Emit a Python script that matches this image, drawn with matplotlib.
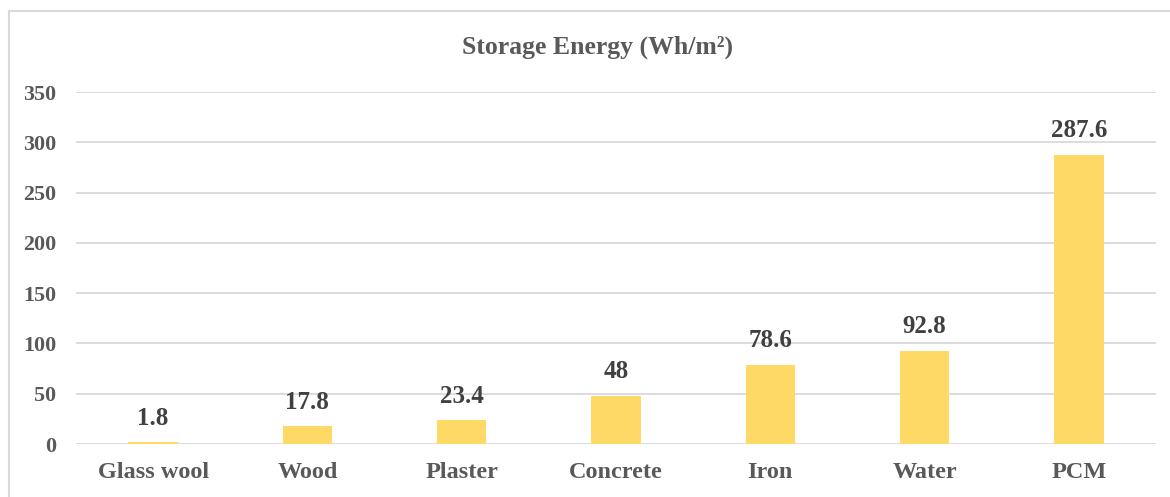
import matplotlib.pyplot as plt
from matplotlib.lines import Line2D

# storage energy per material (Wh/m2)
materials = ['Glass wool', 'Wood', 'Plaster', 'Concrete', 'Iron', 'Water', 'PCM']
energy = [1.8, 17.8, 23.4, 48, 78.6, 92.8, 287.6]
value_labels = ['1.8', '17.8', '23.4', '48', '78.6', '92.8', '287.6']
y_ticks = [0, 50, 100, 150, 200, 250, 300, 350]

plt.rcParams['font.family'] = ['Liberation Serif', 'DejaVu Serif']
plt.rcParams['font.weight'] = 'bold'

W, H = 1170, 497
fig = plt.figure(figsize=(W / 100, H / 100), dpi=100)
ax = fig.add_axes([76 / W, 1 - 444 / H, (1156 - 76) / W, (444 - 92) / H])

bars = ax.bar(range(len(materials)), energy, width=0.32, color='#FFD966', zorder=3)
ax.set_xlim(-0.5, len(materials) - 0.5)
ax.set_ylim(0, 350)
ax.set_yticks(y_ticks)
ax.set_xticks(range(len(materials)))
ax.set_xticklabels(materials)

ax.grid(axis='y', color='#D9D9D9', linewidth=1.3, zorder=0)
for s in ax.spines.values():
    s.set_visible(False)
ax.tick_params(axis='both', length=0, colors='#595959')
ax.tick_params(axis='y', pad=14, labelsize=15.8)
ax.tick_params(axis='x', pad=13, labelsize=17.5)
for lbl in ax.get_xticklabels() + ax.get_yticklabels():
    lbl.set_fontweight('bold')

for b, txt in zip(bars, value_labels):
    ax.annotate(txt, (b.get_x() + b.get_width() / 2, b.get_height()),
                xytext=(0, 9), textcoords='offset points',
                ha='center', va='bottom', fontsize=18, fontweight='bold',
                color='#404040')

fig.text(597 / W, 1 - 47 / H, 'Storage Energy (Wh/m²)',
         ha='center', va='center', fontsize=18.5, fontweight='bold', color='#595959')

# chart area border (only left and top visible in the crop)
fig.add_artist(Line2D([9 / W, 9 / W], [0, 1 - 11 / H], transform=fig.transFigure,
                      color='#D9D9D9', linewidth=1.5))
fig.add_artist(Line2D([9 / W, 1], [1 - 11 / H, 1 - 11 / H], transform=fig.transFigure,
                      color='#D9D9D9', linewidth=1.5))

fig.savefig('out.png', dpi=100)
